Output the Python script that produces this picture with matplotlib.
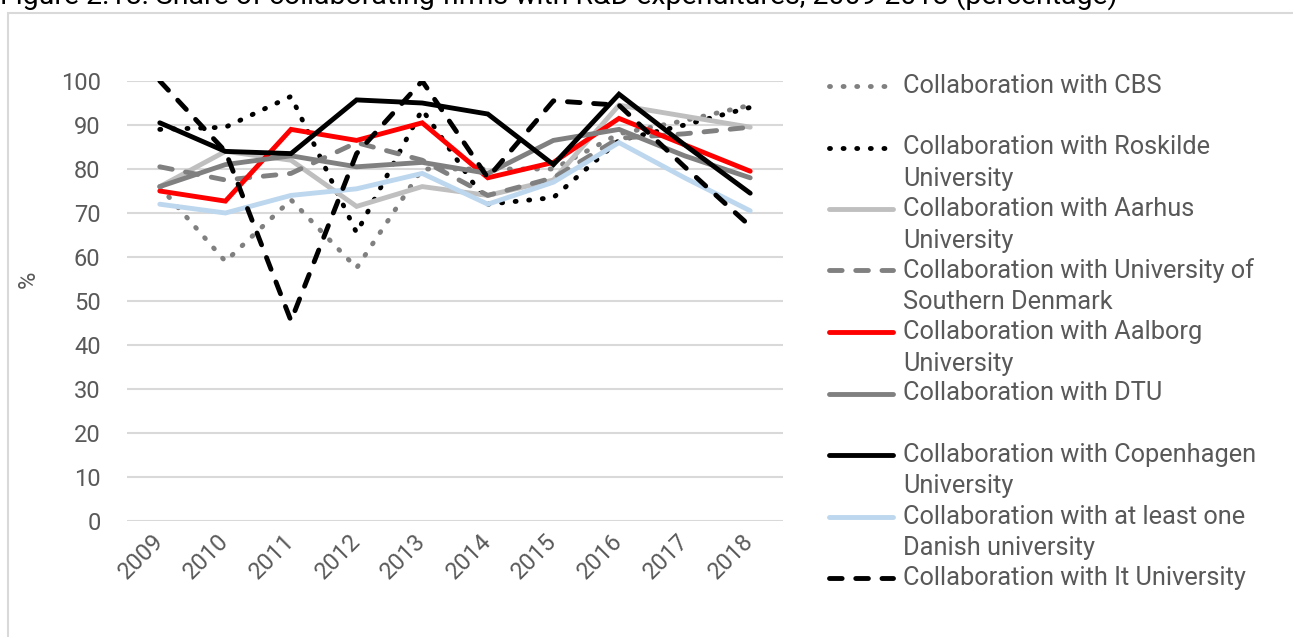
import matplotlib.pyplot as plt
from matplotlib.lines import Line2D
from matplotlib.patches import Rectangle

plt.rcParams['font.family'] = ['Roboto', 'DejaVu Sans']

years = ['2009', '2010', '2011', '2012', '2013', '2014', '2015', '2016', '2017', '2018']

# share of collaborating firms (%)
cbs = [76, 59, 73, 57.5, 80, 80, 80, 88, 91, 94.5]
roskilde = [89, 89.5, 96.5, 65.5, 93.5, 72, 73.5, 86.5, 90, 94]
aarhus = [76, 84, 82, 71.5, 76, 74, 77.5, 94.5, 92, 89.5]
sdu = [80.5, 77.5, 79, 86, 82, 74, 78, 87, 88, 89.5]
aalborg = [75, 72.7, 89, 86.5, 90.5, 78, 81.5, 91.5, 85.5, 79.5]
dtu = [76, 81, 83, 80.5, 81.5, 79, 86.5, 89, 83, 78]
copenhagen = [90.5, 84, 83.5, 95.7, 95, 92.5, 81, 97, 85.5, 74.5]
at_least_one = [72, 70, 74, 75.5, 79, 72, 77, 86, 78, 70.5]
it_uni = [100, 84, 45.5, 83.5, 100, 78, 95.5, 94.5, 80.5, 67]

labels = ['Collaboration with CBS',
          'Collaboration with Roskilde\nUniversity',
          'Collaboration with Aarhus\nUniversity',
          'Collaboration with University of\nSouthern Denmark',
          'Collaboration with Aalborg\nUniversity',
          'Collaboration with DTU',
          'Collaboration with Copenhagen\nUniversity',
          'Collaboration with at least one\nDanish university',
          'Collaboration with It University']

dot = (0, (0.2, 2.6))
dash = (0, (2.6, 2.8))
series = [
    (cbs, '#808080', dot),
    (roskilde, '#000000', dot),
    (aarhus, '#bfbfbf', '-'),
    (sdu, '#808080', dash),
    (aalborg, '#ff0000', '-'),
    (dtu, '#808080', '-'),
    (copenhagen, '#000000', '-'),
    (at_least_one, '#bdd7ee', '-'),
    (it_uni, '#000000', dash),
]

W, H = 1293, 637
txt = '#595959'
fig = plt.figure(figsize=(W / 100, H / 100), dpi=100)

# outer chart frame and clipped title
fig.add_artist(Rectangle((8 / W, -0.05), 1.1, (H - 13) / H + 0.05, transform=fig.transFigure,
                         fill=False, edgecolor='#d9d9d9', linewidth=1.5))
fig.text(0, 1 - 4 / H, 'Figure 2.18: Share of collaborating firms with R&D expenditures, 2009-2018 (percentage)',
         fontsize=20.5, color='#000000', ha='left', va='baseline')

ax = fig.add_axes([127 / W, 116 / H, 656 / W, 440 / H])
x = range(len(years))
for vals, col, ls in series:
    ax.plot(x, vals, color=col, linestyle=ls, linewidth=3.5,
            solid_capstyle='round', dash_capstyle='round', solid_joinstyle='miter')

ax.set_xlim(-0.5, len(years) - 0.5)
ax.set_ylim(0, 100)
ax.set_yticks(range(0, 101, 10))
ax.set_xticks(list(x))
ax.set_xticklabels(years, rotation=45, ha='right', va='center', rotation_mode='anchor')
ax.grid(axis='y', color='#d9d9d9', linewidth=1.5)
ax.set_axisbelow(True)
for s in ax.spines.values():
    s.set_visible(False)
ax.tick_params(length=0, labelsize=17, labelcolor=txt)
ax.tick_params(axis='y', pad=19)
ax.tick_params(axis='x', pad=12)
ax.set_ylabel('%', fontsize=17, color=txt)
ax.yaxis.set_label_coords(-0.133, 0.55)

# legend, drawn by hand so the key sits on the first text line
for i, ((vals, col, ls), lab) in enumerate(zip(series, labels)):
    yc = 1 - (86 + i * 61.5) / H
    fig.add_artist(Line2D([829 / W, 893 / W], [yc, yc], transform=fig.transFigure, color=col,
                          linestyle=ls, linewidth=3.5, solid_capstyle='round', dash_capstyle='round'))
    for j, line in enumerate(lab.split('\n')):
        fig.text(903 / W, yc - j * 31.5 / H, line, fontsize=18.3, color=txt, ha='left', va='center')

fig.savefig('out.png', dpi=100)
